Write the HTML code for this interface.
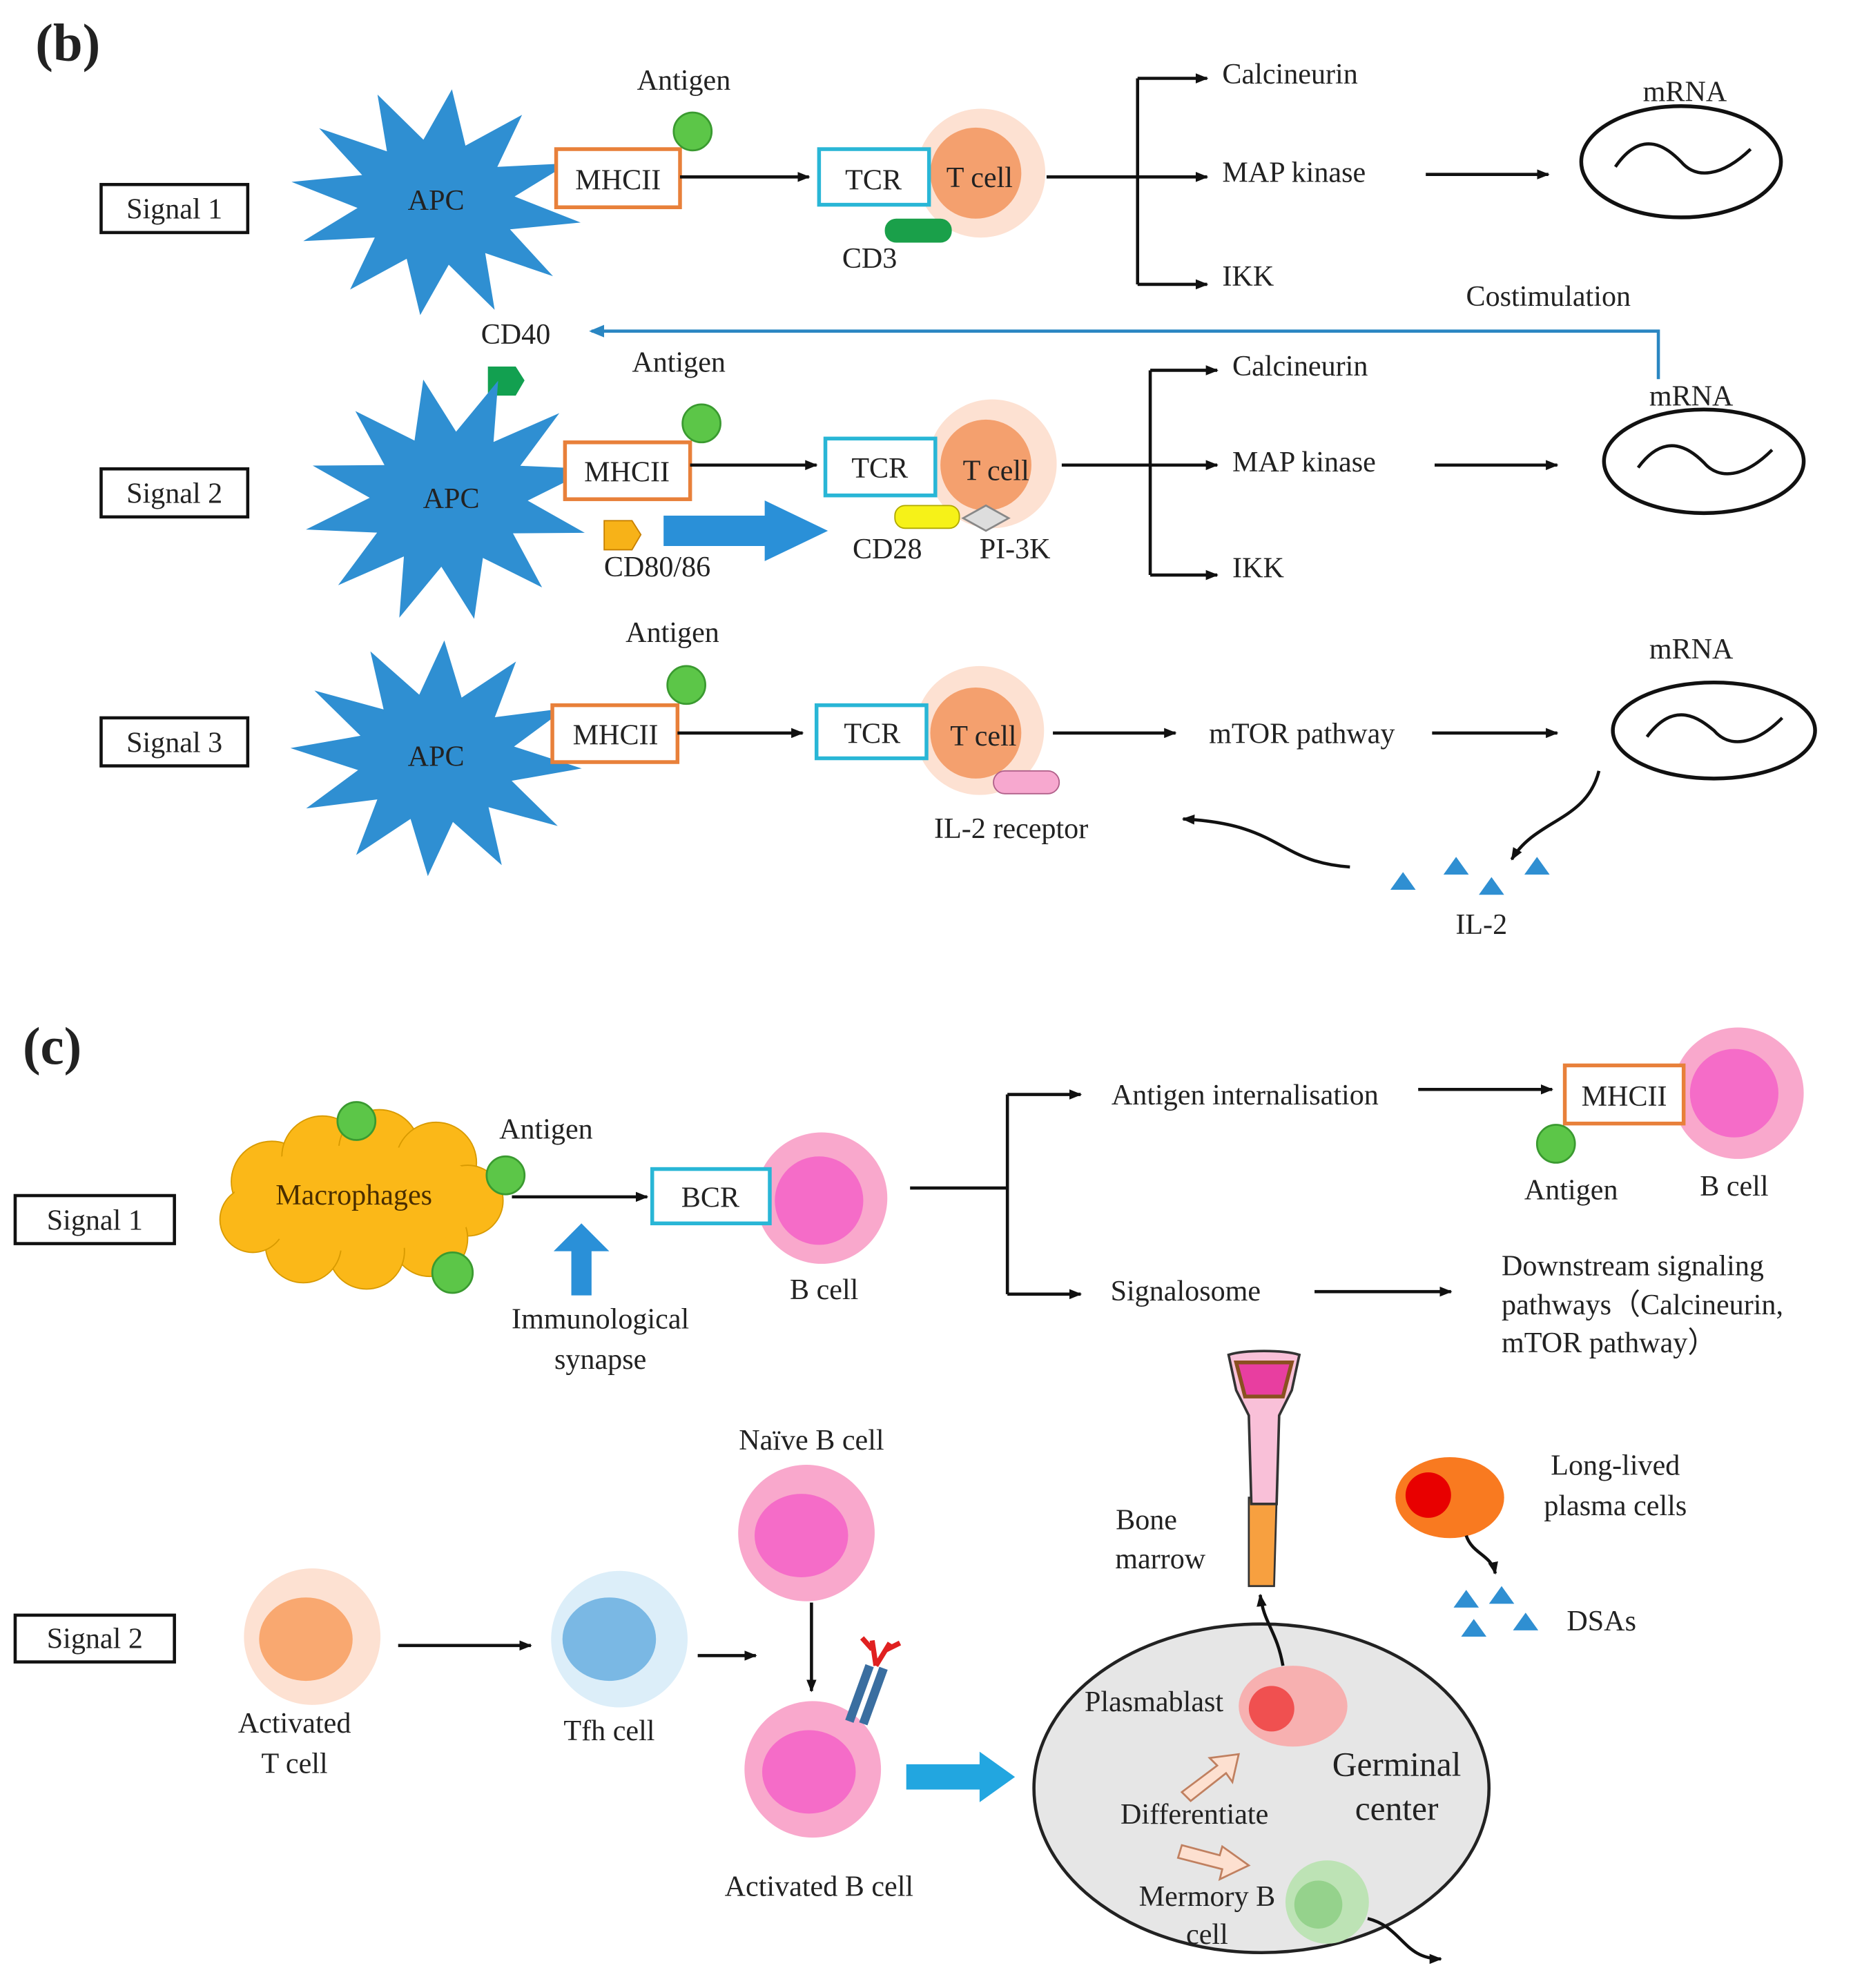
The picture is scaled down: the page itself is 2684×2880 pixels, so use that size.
<!DOCTYPE html>
<html><head><meta charset="utf-8"><style>
html,body{margin:0;padding:0;background:#fff;}
svg{display:block;}
text{font-family:"Liberation Serif",serif;fill:#222;}
</style></head><body>
<svg width="2684" height="2880" viewBox="0 0 1466 1573" preserveAspectRatio="none" xmlns="http://www.w3.org/2000/svg">
<defs>
<marker id="ah" markerWidth="10" markerHeight="8" refX="9" refY="4" orient="auto" markerUnits="userSpaceOnUse"><path d="M0,0 L10,4 L0,8 z" fill="#111"/></marker>
<marker id="ahb" markerWidth="12" markerHeight="10" refX="10" refY="5" orient="auto" markerUnits="userSpaceOnUse"><path d="M0,0 L12,5 L0,10 z" fill="#2a86c2"/></marker>
<polygon id="star" points="110,0 58,16 95,55 42,42 55,95 16,58 0,110 -16,58 -55,95 -42,42 -95,55 -58,16 -110,0 -58,-16 -95,-55 -42,-42 -55,-95 -16,-58 0,-110 16,-58 55,-95 42,-42 95,-55 58,-16" fill="#2f8fd2"/>
</defs>
<g font-size="23">
<text x="28" y="48" font-size="42" font-weight="bold">(b)</text>

<rect x="80" y="146" width="116" height="38" fill="#fff" stroke="#111" stroke-width="2.5"/>
<text x="138" y="173" text-anchor="middle">Signal 1</text>
<use href="#star" transform="translate(345,160) rotate(8) scale(1.05,0.82)"/>
<text x="345" y="166" text-anchor="middle">APC</text>
<rect x="440" y="118" width="98" height="46" fill="#fff" stroke="#e8803a" stroke-width="3"/>
<text x="489" y="150" text-anchor="middle">MHCII</text>
<circle cx="548" cy="104" r="15" fill="#5cc648" stroke="#3a9a30" stroke-width="1.5"/>
<text x="541" y="71" text-anchor="middle">Antigen</text>
<line x1="538" y1="140" x2="640" y2="140" stroke="#111" stroke-width="2.5" marker-end="url(#ah)"/>
<circle cx="776" cy="137" r="51" fill="#fde1d2"/>
<circle cx="772" cy="137" r="36" fill="#f4a06e"/>
<rect x="648" y="118" width="87" height="44" fill="#fff" stroke="#29b6d6" stroke-width="3"/>
<text x="691" y="150" text-anchor="middle">TCR</text>
<text x="775" y="148" text-anchor="middle">T cell</text>
<rect x="700" y="173" width="53" height="19" rx="9" fill="#1aa04a"/>
<text x="688" y="212" text-anchor="middle">CD3</text>
<line x1="828" y1="140" x2="900" y2="140" stroke="#111" stroke-width="2.5"/>
<line x1="900" y1="62" x2="900" y2="225" stroke="#111" stroke-width="2.5"/>
<line x1="900" y1="62" x2="955" y2="62" stroke="#111" stroke-width="2.5" marker-end="url(#ah)"/>
<line x1="900" y1="140" x2="955" y2="140" stroke="#111" stroke-width="2.5" marker-end="url(#ah)"/>
<line x1="900" y1="225" x2="955" y2="225" stroke="#111" stroke-width="2.5" marker-end="url(#ah)"/>
<text x="967" y="66">Calcineurin</text>
<text x="967" y="144">MAP kinase</text>
<text x="967" y="226">IKK</text>
<line x1="1128" y1="138" x2="1225" y2="138" stroke="#111" stroke-width="2.5" marker-end="url(#ah)"/>
<ellipse cx="1330" cy="128" rx="79" ry="44" fill="#fff" stroke="#111" stroke-width="3"/>
<path d="M1278,132 C1300,100 1320,118 1330,128 C1342,142 1362,140 1385,118" fill="none" stroke="#111" stroke-width="2.5"/>
<text x="1333" y="80" text-anchor="middle">mRNA</text>

<text x="1225" y="242" text-anchor="middle">Costimulation</text>
<polyline points="1312,300 1312,262 468,262" fill="none" stroke="#2a86c2" stroke-width="2.5" marker-end="url(#ahb)"/>
<text x="408" y="272" text-anchor="middle">CD40</text>
<polygon points="386,290 408,290 415,301 408,313 386,313" fill="#12a050"/>

<rect x="80" y="371" width="116" height="38" fill="#fff" stroke="#111" stroke-width="2.5"/>
<text x="138" y="398" text-anchor="middle">Signal 2</text>
<use href="#star" transform="translate(355,395) rotate(-12) scale(1.05,0.88)"/>
<text x="357" y="402" text-anchor="middle">APC</text>
<rect x="447" y="350" width="99" height="45" fill="#fff" stroke="#e8803a" stroke-width="3"/>
<text x="496" y="381" text-anchor="middle">MHCII</text>
<circle cx="555" cy="335" r="15" fill="#5cc648" stroke="#3a9a30" stroke-width="1.5"/>
<text x="537" y="294" text-anchor="middle">Antigen</text>
<line x1="546" y1="368" x2="646" y2="368" stroke="#111" stroke-width="2.5" marker-end="url(#ah)"/>
<circle cx="785" cy="367" r="51" fill="#fde1d2"/>
<circle cx="780" cy="368" r="36" fill="#f4a06e"/>
<rect x="653" y="347" width="87" height="45" fill="#fff" stroke="#29b6d6" stroke-width="3"/>
<text x="696" y="378" text-anchor="middle">TCR</text>
<text x="788" y="380" text-anchor="middle">T cell</text>
<rect x="708" y="400" width="51" height="18" rx="8" fill="#f6f218" stroke="#b0a800" stroke-width="1"/>
<polygon points="780,400 798,410 780,420 762,410" fill="#ddd" stroke="#888" stroke-width="1.5"/>
<text x="702" y="442" text-anchor="middle">CD28</text>
<text x="803" y="442" text-anchor="middle">PI-3K</text>
<polygon points="478,412 500,412 507,423 500,435 478,435" fill="#f7b218" stroke="#c88000" stroke-width="1"/>
<text x="520" y="456" text-anchor="middle">CD80/86</text>
<polygon points="525,408 605,408 605,396 655,420 605,444 605,432 525,432" fill="#2a90d8"/>
<line x1="840" y1="368" x2="910" y2="368" stroke="#111" stroke-width="2.5"/>
<line x1="910" y1="293" x2="910" y2="455" stroke="#111" stroke-width="2.5"/>
<line x1="910" y1="293" x2="963" y2="293" stroke="#111" stroke-width="2.5" marker-end="url(#ah)"/>
<line x1="910" y1="368" x2="963" y2="368" stroke="#111" stroke-width="2.5" marker-end="url(#ah)"/>
<line x1="910" y1="455" x2="963" y2="455" stroke="#111" stroke-width="2.5" marker-end="url(#ah)"/>
<text x="975" y="297">Calcineurin</text>
<text x="975" y="373">MAP kinase</text>
<text x="975" y="457">IKK</text>
<line x1="1135" y1="368" x2="1232" y2="368" stroke="#111" stroke-width="2.5" marker-end="url(#ah)"/>
<ellipse cx="1348" cy="365" rx="79" ry="41" fill="#fff" stroke="#111" stroke-width="3"/>
<path d="M1296,370 C1318,340 1338,356 1348,366 C1360,380 1380,378 1402,356" fill="none" stroke="#111" stroke-width="2.5"/>
<text x="1338" y="321" text-anchor="middle">mRNA</text>

<rect x="80" y="568" width="116" height="38" fill="#fff" stroke="#111" stroke-width="2.5"/>
<text x="138" y="595" text-anchor="middle">Signal 3</text>
<use href="#star" transform="translate(345,600) rotate(4) scale(1.05,0.85)"/>
<text x="345" y="606" text-anchor="middle">APC</text>
<rect x="437" y="558" width="99" height="45" fill="#fff" stroke="#e8803a" stroke-width="3"/>
<text x="487" y="589" text-anchor="middle">MHCII</text>
<circle cx="543" cy="542" r="15" fill="#5cc648" stroke="#3a9a30" stroke-width="1.5"/>
<text x="532" y="508" text-anchor="middle">Antigen</text>
<line x1="536" y1="580" x2="635" y2="580" stroke="#111" stroke-width="2.5" marker-end="url(#ah)"/>
<circle cx="775" cy="578" r="51" fill="#fde1d2"/>
<circle cx="772" cy="580" r="36" fill="#f4a06e"/>
<rect x="646" y="558" width="87" height="42" fill="#fff" stroke="#29b6d6" stroke-width="3"/>
<text x="690" y="588" text-anchor="middle">TCR</text>
<text x="778" y="590" text-anchor="middle">T cell</text>
<rect x="786" y="610" width="52" height="18" rx="9" fill="#f7a8cf" stroke="#b0608a" stroke-width="1"/>
<text x="800" y="663" text-anchor="middle">IL-2 receptor</text>
<line x1="833" y1="580" x2="930" y2="580" stroke="#111" stroke-width="2.5" marker-end="url(#ah)"/>
<text x="1030" y="588" text-anchor="middle">mTOR pathway</text>
<line x1="1133" y1="580" x2="1232" y2="580" stroke="#111" stroke-width="2.5" marker-end="url(#ah)"/>
<ellipse cx="1356" cy="578" rx="80" ry="38" fill="#fff" stroke="#111" stroke-width="3"/>
<path d="M1303,583 C1325,553 1345,569 1356,578 C1368,592 1388,590 1410,568" fill="none" stroke="#111" stroke-width="2.5"/>
<text x="1338" y="521" text-anchor="middle">mRNA</text>
<path d="M1265,610 C1255,650 1215,648 1196,680" fill="none" stroke="#111" stroke-width="2.5" marker-end="url(#ah)"/>
<polygon points="1110,690 1120,704 1100,704" fill="#2f8fd2"/>
<polygon points="1152,678 1162,692 1142,692" fill="#2f8fd2"/>
<polygon points="1180,694 1190,708 1170,708" fill="#2f8fd2"/>
<polygon points="1216,678 1226,692 1206,692" fill="#2f8fd2"/>
<text x="1172" y="739" text-anchor="middle">IL-2</text>
<path d="M1068,686 C1010,682 1015,652 936,648" fill="none" stroke="#111" stroke-width="2.5" marker-end="url(#ah)"/>

<text x="18" y="842" font-size="42" font-weight="bold">(c)</text>
<rect x="12" y="946" width="126" height="38" fill="#fff" stroke="#111" stroke-width="2.5"/>
<text x="75" y="973" text-anchor="middle">Signal 1</text>
<g fill="#fbb818" stroke="#d89a00" stroke-width="1">
<ellipse cx="285" cy="948" rx="95" ry="45"/>
<circle cx="215" cy="935" r="32"/><circle cx="255" cy="915" r="32"/><circle cx="300" cy="910" r="32"/>
<circle cx="345" cy="920" r="32"/><circle cx="370" cy="950" r="28"/><circle cx="340" cy="980" r="30"/>
<circle cx="290" cy="990" r="30"/><circle cx="240" cy="985" r="30"/><circle cx="200" cy="965" r="26"/>
</g>
<ellipse cx="285" cy="948" rx="100" ry="42" fill="#fbb818"/>
<text x="280" y="953" text-anchor="middle" style="fill:#4a2e00">Macrophages</text>
<circle cx="282" cy="887" r="15" fill="#5cc648" stroke="#3a9a30" stroke-width="1.5"/>
<circle cx="400" cy="930" r="15" fill="#5cc648" stroke="#3a9a30" stroke-width="1.5"/>
<circle cx="358" cy="1007" r="16" fill="#5cc648" stroke="#3a9a30" stroke-width="1.5"/>
<text x="432" y="901" text-anchor="middle">Antigen</text>
<line x1="405" y1="947" x2="512" y2="947" stroke="#111" stroke-width="2.5" marker-end="url(#ah)"/>
<polygon points="452,1025 468,1025 468,990 482,990 460,968 438,990 452,990" fill="#2a90d8"/>
<text x="475" y="1051" text-anchor="middle">Immunological</text>
<text x="475" y="1083" text-anchor="middle">synapse</text>
<circle cx="650" cy="948" r="52" fill="#f9a8cc"/>
<circle cx="648" cy="950" r="35" fill="#f56cc8"/>
<rect x="516" y="925" width="93" height="43" fill="#fff" stroke="#29b6d6" stroke-width="3"/>
<text x="562" y="955" text-anchor="middle">BCR</text>
<text x="652" y="1028" text-anchor="middle">B cell</text>
<line x1="720" y1="940" x2="797" y2="940" stroke="#111" stroke-width="2.5"/>
<line x1="797" y1="866" x2="797" y2="1024" stroke="#111" stroke-width="2.5"/>
<line x1="797" y1="866" x2="855" y2="866" stroke="#111" stroke-width="2.5" marker-end="url(#ah)"/>
<line x1="797" y1="1024" x2="855" y2="1024" stroke="#111" stroke-width="2.5" marker-end="url(#ah)"/>
<text x="985" y="874" text-anchor="middle">Antigen internalisation</text>
<text x="938" y="1029" text-anchor="middle">Signalosome</text>
<line x1="1122" y1="862" x2="1228" y2="862" stroke="#111" stroke-width="2.5" marker-end="url(#ah)"/>
<circle cx="1375" cy="865" r="52" fill="#f9a8cc"/>
<circle cx="1372" cy="865" r="35" fill="#f56cc8"/>
<rect x="1238" y="843" width="94" height="46" fill="#fff" stroke="#e8803a" stroke-width="3"/>
<text x="1285" y="875" text-anchor="middle">MHCII</text>
<circle cx="1231" cy="905" r="15" fill="#5cc648" stroke="#3a9a30" stroke-width="1.5"/>
<text x="1243" y="949" text-anchor="middle">Antigen</text>
<text x="1372" y="946" text-anchor="middle">B cell</text>
<line x1="1040" y1="1022" x2="1148" y2="1022" stroke="#111" stroke-width="2.5" marker-end="url(#ah)"/>
<text x="1188" y="1009">Downstream signaling</text>
<text x="1188" y="1040">pathways（Calcineurin,</text>
<text x="1188" y="1070">mTOR pathway）</text>

<rect x="12" y="1278" width="126" height="37" fill="#fff" stroke="#111" stroke-width="2.5"/>
<text x="75" y="1304" text-anchor="middle">Signal 2</text>
<circle cx="247" cy="1295" r="54" fill="#fde1d2"/>
<ellipse cx="242" cy="1297" rx="37" ry="33" fill="#f9a870"/>
<text x="233" y="1371" text-anchor="middle">Activated</text>
<text x="233" y="1403" text-anchor="middle">T cell</text>
<line x1="315" y1="1302" x2="420" y2="1302" stroke="#111" stroke-width="2.5" marker-end="url(#ah)"/>
<circle cx="490" cy="1297" r="54" fill="#dceef9"/>
<ellipse cx="482" cy="1297" rx="37" ry="33" fill="#7ab8e4"/>
<text x="482" y="1377" text-anchor="middle">Tfh cell</text>
<line x1="552" y1="1310" x2="598" y2="1310" stroke="#111" stroke-width="2.5" marker-end="url(#ah)"/>
<circle cx="638" cy="1213" r="54" fill="#f9a8cc"/>
<ellipse cx="634" cy="1215" rx="37" ry="33" fill="#f56cc8"/>
<text x="642" y="1147" text-anchor="middle">Naïve B cell</text>
<line x1="642" y1="1268" x2="642" y2="1338" stroke="#111" stroke-width="2.5" marker-end="url(#ah)"/>
<circle cx="643" cy="1400" r="54" fill="#f9a8cc"/>
<ellipse cx="640" cy="1402" rx="37" ry="33" fill="#f56cc8"/>
<line x1="672" y1="1362" x2="688" y2="1318" stroke="#3a6ea0" stroke-width="7"/>
<line x1="683" y1="1364" x2="699" y2="1320" stroke="#3a6ea0" stroke-width="7"/>
<path d="M693,1318 L690,1298 M693,1318 L704,1300 M690,1305 L682,1296 M700,1306 L712,1300" stroke="#e02020" stroke-width="4" fill="none"/>
<text x="648" y="1500" text-anchor="middle">Activated B cell</text>
<polygon points="717,1396 775,1396 775,1386 803,1406 775,1426 775,1416 717,1416" fill="#22a6e0"/>

<ellipse cx="998" cy="1415" rx="180" ry="130" fill="#e6e6e6" stroke="#222" stroke-width="2.5"/>
<path d="M1015,1318 C1010,1290 1000,1285 997,1262" fill="none" stroke="#111" stroke-width="2.5" marker-end="url(#ah)"/>
<ellipse cx="1023" cy="1350" rx="43" ry="32" fill="#f7b0b0"/>
<circle cx="1006" cy="1352" r="18" fill="#f05050"/>
<text x="913" y="1354" text-anchor="middle">Plasmablast</text>
<text x="1105" y="1405" text-anchor="middle" font-size="27">Germinal</text>
<text x="1105" y="1440" text-anchor="middle" font-size="27">center</text>
<polygon points="935,1418 963,1397 957,1391 980,1388 975,1410 970,1403 942,1425" fill="#fde0d0" stroke="#c08060" stroke-width="1.5"/>
<text x="945" y="1443" text-anchor="middle">Differentiate</text>
<polygon points="935,1460 965,1468 967,1461 988,1476 965,1487 967,1479 932,1470" fill="#fde0d0" stroke="#c08060" stroke-width="1.5"/>
<circle cx="1050" cy="1505" r="33" fill="#bde3b5"/>
<circle cx="1043" cy="1507" r="19" fill="#95d28c"/>
<text x="955" y="1508" text-anchor="middle">Mermory B</text>
<text x="955" y="1538" text-anchor="middle">cell</text>
<path d="M1082,1518 C1110,1525 1110,1550 1140,1550" fill="none" stroke="#111" stroke-width="2.5" marker-end="url(#ah)"/>

<path d="M988,1185 L1010,1185 L1008,1255 L988,1255 Z" fill="#f7a040" stroke="#333" stroke-width="1.5"/>
<path d="M972,1072 C985,1068 1015,1068 1028,1072 L1022,1100 L1012,1120 L1010,1190 L990,1190 L988,1120 L978,1100 Z" fill="#f9c0d8" stroke="#333" stroke-width="2"/>
<path d="M978,1078 L1022,1078 L1015,1105 L985,1105 Z" fill="#e83ea0" stroke="#8a5020" stroke-width="3"/>
<text x="907" y="1210" text-anchor="middle">Bone</text>
<text x="918" y="1241" text-anchor="middle">marrow</text>

<ellipse cx="1147" cy="1185" rx="43" ry="32" fill="#f97a20"/>
<circle cx="1130" cy="1183" r="18" fill="#e80000"/>
<text x="1278" y="1167" text-anchor="middle">Long-lived</text>
<text x="1278" y="1199" text-anchor="middle">plasma cells</text>
<path d="M1160,1215 C1165,1230 1180,1230 1183,1245" fill="none" stroke="#111" stroke-width="2.5" marker-end="url(#ah)"/>
<polygon points="1160,1258 1170,1272 1150,1272" fill="#2f8fd2"/>
<polygon points="1188,1255 1198,1269 1178,1269" fill="#2f8fd2"/>
<polygon points="1166,1281 1176,1295 1156,1295" fill="#2f8fd2"/>
<polygon points="1207,1276 1217,1290 1197,1290" fill="#2f8fd2"/>
<text x="1267" y="1290" text-anchor="middle">DSAs</text>
</g>
</svg>
</body></html>
